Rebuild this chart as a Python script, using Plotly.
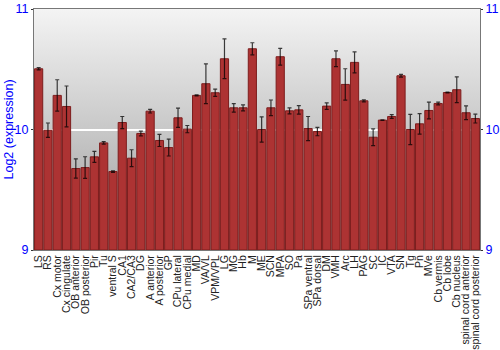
import base64
import plotly.graph_objects as go

regions = ["LS", "RS", "Cx motor", "Cx cingulate", "OB anterior", "OB posterior", "Pir", "Tu",
           "ventral S", "CA1", "CA2/CA3", "DG", "A anterior", "A posterior", "GP", "CPu lateral",
           "CPu medial", "MD", "VA/VL", "VPM/VPL", "LG", "MG", "Hb", "M", "ME", "SCN", "MPA", "SO",
           "Pa", "SPa ventral", "SPa dorsal", "DM", "VMH", "Arc", "LH", "PAG", "SC", "IC", "VTA",
           "SN", "Tg", "Pn", "MVe", "Cb vermis", "Cb lobe", "Cb nucleus", "spinal cord anterior",
           "spinal cord posterior"]

expression = [10.504, 9.994, 10.283, 10.191, 9.676, 9.684, 9.773, 9.889,
              9.651, 10.058, 9.762, 9.967, 10.152, 9.909, 9.850, 10.097,
              10.003, 10.283, 10.380, 10.305, 10.587, 10.180, 10.180, 10.670, 10.000, 10.180, 10.604, 10.155,
              10.163, 10.008, 9.983, 10.194, 10.587, 10.374, 10.557, 10.238, 9.936, 10.078, 10.108,
              10.446, 10.000, 10.047, 10.158, 10.216, 10.307, 10.330, 10.139,
              10.091]

error = [0.010, 0.060, 0.130, 0.170, 0.080, 0.090, 0.045, 0.010,
         0.006, 0.050, 0.070, 0.020, 0.015, 0.050, 0.070, 0.080,
         0.030, 0.004, 0.165, 0.030, 0.165, 0.035, 0.025, 0.050, 0.105, 0.065, 0.070, 0.025,
         0.035, 0.100, 0.035, 0.027, 0.065, 0.130, 0.087, 0.008, 0.070, 0.003, 0.015,
         0.012, 0.125, 0.085, 0.070, 0.012, 0.003, 0.107, 0.057,
         0.037]

y_ticks = [9, 10, 11]

svg = ('<svg xmlns="http://www.w3.org/2000/svg" width="10" height="100" preserveAspectRatio="none">'
       '<defs><linearGradient id="g" x1="0" y1="0" x2="0" y2="1">'
       '<stop offset="0" stop-color="#f4f4f4"/><stop offset="1" stop-color="#9c9c9c"/>'
       '</linearGradient></defs><rect width="10" height="100" fill="url(#g)"/></svg>')
bg_uri = "data:image/svg+xml;base64," + base64.b64encode(svg.encode()).decode()

fig = go.Figure()
fig.add_trace(go.Bar(
    x=regions, y=[v - 9 for v in expression], base=9,
    marker=dict(color="#ad3333", line=dict(color="#7d1d1d", width=1)),
    error_y=dict(type="data", array=error, color="rgba(0,0,0,0.75)", thickness=1.2, width=2),
    hoverinfo="skip",
))
fig.add_trace(go.Scatter(x=[regions[0]], y=[9], yaxis="y2", mode="markers",
                         marker=dict(opacity=0), showlegend=False, hoverinfo="skip"))

fig.update_layout(
    width=500, height=350,
    margin=dict(l=34, r=20, t=9, b=100),
    paper_bgcolor="white",
    plot_bgcolor="rgba(0,0,0,0)",
    showlegend=False,
    bargap=0.12,
    font=dict(family="Liberation Sans, Arial, sans-serif", size=10.5, color="#222"),
    images=[dict(source=bg_uri, xref="paper", yref="paper", x=0, y=1, sizex=1, sizey=1,
                 sizing="stretch", layer="below", xanchor="left", yanchor="top")],
    xaxis=dict(tickangle=-90, tickfont=dict(size=10.5, color="#222"), showgrid=False,
               tickmode="linear", dtick=1, range=[-0.5, len(regions) - 0.5],
               showline=True, linecolor="#777", mirror=True, ticks="", automargin=False),
    yaxis=dict(range=[9, 11], tickvals=y_ticks, ticktext=[str(t) for t in y_ticks],
               tickfont=dict(size=12.5, color="blue"), ticks="outside", ticklen=2, tickcolor="#333",
               showgrid=True, gridcolor="white", gridwidth=1.5, showline=True, linecolor="#777",
               mirror=True, zeroline=False, automargin=False),
    yaxis2=dict(range=[9, 11], tickvals=y_ticks, ticktext=[str(t) for t in y_ticks],
                overlaying="y", side="right", tickfont=dict(size=12.5, color="blue"), automargin=False,
                ticks="outside", ticklen=2, tickcolor="#333", showgrid=False, zeroline=False),
    annotations=[dict(text="Log2 (expression)", xref="paper", yref="paper", x=0, y=0.5,
                      xshift=-26, xanchor="center", yanchor="middle", textangle=-90,
                      showarrow=False, font=dict(size=12.5, color="blue"))],
)

fig.write_html("out.html")
